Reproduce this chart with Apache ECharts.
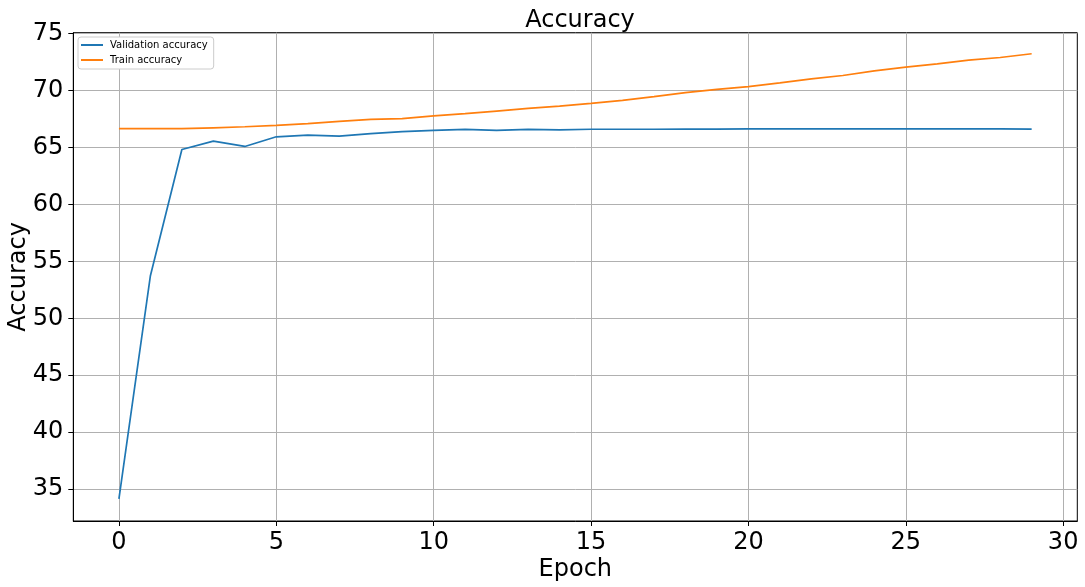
<!DOCTYPE html>
<html>
<head>
<meta charset="utf-8">
<script src="https://cdn.jsdelivr.net/npm/echarts@6/dist/echarts.min.js"></script>
<style>
html,body{margin:0;padding:0;background:#fff;}
#c{width:1085px;height:587px;}
</style>
</head>
<body>
<div id="c"></div>
<script>
const epochs = [0,1,2,3,4,5,6,7,8,9,10,11,12,13,14,15,16,17,18,19,20,21,22,23,24,25,26,27,28,29];
const validationAccuracy = [34.14, 53.74, 64.82, 65.56, 65.09, 65.94, 66.08, 66.0, 66.22, 66.4, 66.5, 66.59, 66.5, 66.59, 66.55, 66.6, 66.6, 66.6, 66.62, 66.62, 66.63, 66.63, 66.63, 66.63, 66.63, 66.63, 66.63, 66.63, 66.63, 66.62];
const trainAccuracy = [66.65, 66.65, 66.65, 66.73, 66.82, 66.94, 67.09, 67.3, 67.47, 67.53, 67.77, 67.97, 68.2, 68.44, 68.64, 68.88, 69.14, 69.47, 69.82, 70.11, 70.35, 70.67, 71.02, 71.32, 71.73, 72.05, 72.35, 72.67, 72.9, 73.23];
const xTicks = [0, 5, 10, 15, 20, 25, 30];
const yTicks = [35, 40, 45, 50, 55, 60, 65, 70, 75];

const FONT = 'DejaVu Sans';
const chart = echarts.init(document.getElementById('c'), null, {renderer: 'canvas'});
chart.setOption({
  backgroundColor: '#ffffff',
  animation: false,
  textStyle: {fontFamily: FONT},
  title: {
    text: 'Accuracy',
    left: 575, top: 4, textAlign: 'center',
    textStyle: {fontFamily: FONT, fontSize: 24, fontWeight: 'normal', color: '#000'}
  },
  grid: {
    left: 73.3, right: 7.7, top: 32.7, bottom: 66,
    containLabel: false, outerBoundsMode: 'none',
    show: true, borderColor: '#000', borderWidth: 1, backgroundColor: '#fff'
  },
  legend: {
    orient: 'vertical', left: 78, top: 37,
    backgroundColor: '#fff', borderColor: '#cccccc', borderWidth: 1, borderRadius: 3,
    padding: [2, 6, 3, 3], itemGap: 3,
    itemWidth: 22, itemHeight: 2,
    textStyle: {fontFamily: FONT, fontSize: 10, color: '#000', lineHeight: 12, padding: [0, 0, 0, 2]},
    data: [
      {name: 'Validation accuracy', icon: 'rect'},
      {name: 'Train accuracy', icon: 'rect'}
    ]
  },
  xAxis: {
    type: 'value', min: -1.45, max: 30.45,
    name: 'Epoch', nameLocation: 'middle', nameGap: 37, nameMoveOverlap: false,
    nameTextStyle: {fontFamily: FONT, fontSize: 24, color: '#000'},
    axisLine: {show: true, onZero: false, lineStyle: {color: '#000', width: 1}},
    axisTick: {show: true, inside: false, length: 5, lineStyle: {color: '#000'}, customValues: xTicks},
    axisLabel: {fontFamily: FONT, fontSize: 24, color: '#000', margin: 10, customValues: xTicks},
    splitLine: {show: true, lineStyle: {color: '#b0b0b0', width: 1}}
  },
  yAxis: {
    type: 'value', min: 32.2, max: 75.08,
    name: 'Accuracy', nameLocation: 'middle', nameGap: 43, nameMoveOverlap: false,
    nameTextStyle: {fontFamily: FONT, fontSize: 24, color: '#000'},
    axisLine: {show: true, onZero: false, lineStyle: {color: '#000', width: 1}},
    axisTick: {show: true, inside: false, length: 5, lineStyle: {color: '#000'}, customValues: yTicks},
    axisLabel: {fontFamily: FONT, fontSize: 24, color: '#000', margin: 10, customValues: yTicks},
    splitLine: {show: true, lineStyle: {color: '#b0b0b0', width: 1}}
  },
  series: [
    {
      name: 'Validation accuracy', type: 'line', symbol: 'none',
      color: '#1f77b4', lineStyle: {color: '#1f77b4', width: 1.7},
      data: epochs.map((e, i) => [e, validationAccuracy[i]])
    },
    {
      name: 'Train accuracy', type: 'line', symbol: 'none',
      color: '#ff7f0e', lineStyle: {color: '#ff7f0e', width: 1.7},
      data: epochs.map((e, i) => [e, trainAccuracy[i]])
    }
  ]
});
</script>
</body>
</html>
